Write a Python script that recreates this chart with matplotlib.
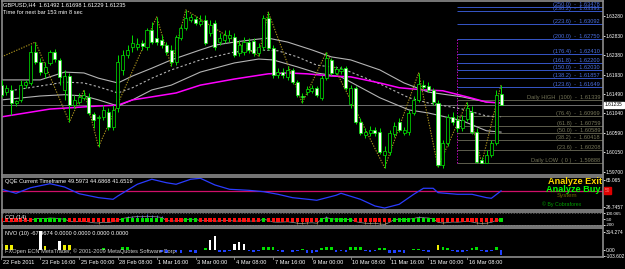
import matplotlib
matplotlib.use("Agg")
import matplotlib.pyplot as plt

W, H = 625, 269
plt.rcParams['font.family'] = ['Liberation Sans', 'DejaVu Sans']

# ---- GBPUSD H4 bars, 8 bars per row ----
opens = [1.6169, 1.6153, 1.6158, 1.6128, 1.6135, 1.6169, 1.6174, 1.6245,
         1.6222, 1.6197, 1.6220, 1.6245, 1.6227, 1.6158, 1.6190, 1.6124,
         1.6130, 1.6140, 1.6142, 1.6103, 1.6094, 1.6096, 1.6107, 1.6073,
         1.6117, 1.6204, 1.6238, 1.6257, 1.6257, 1.6266, 1.6257, 1.6296,
         1.6277, 1.6273, 1.6261, 1.6250, 1.6222, 1.6277, 1.6300, 1.6319,
         1.6321, 1.6310, 1.6319, 1.6289, 1.6312, 1.6268, 1.6273, 1.6277,
         1.6280, 1.6243, 1.6245, 1.6268, 1.6271, 1.6243, 1.6257, 1.6323,
         1.6255, 1.6192, 1.6199, 1.6188, 1.6204, 1.6176, 1.6144, 1.6153,
         1.6156, 1.6163, 1.6140, 1.6185, 1.6227, 1.6197, 1.6202, 1.6208,
         1.6126, 1.6163, 1.6084, 1.6054, 1.6059, 1.6066, 1.6061, 1.6009,
         1.6015, 1.6057, 1.6084, 1.6059, 1.6061, 1.6105, 1.6135, 1.6169,
         1.6167, 1.6158, 1.6128, 1.5986, 1.6036, 1.6096, 1.6089, 1.6071,
         1.6091, 1.6107, 1.6061, 1.5997, 1.5990, 1.6009, 1.6036, 1.61492]
highs = [1.6181, 1.6169, 1.6169, 1.6135, 1.6181, 1.6181, 1.6261, 1.6268,
         1.6232, 1.6222, 1.6250, 1.6252, 1.6232, 1.6204, 1.6197, 1.6147,
         1.6151, 1.6158, 1.6151, 1.6107, 1.6100, 1.6124, 1.6117, 1.6124,
         1.6238, 1.6250, 1.6261, 1.6284, 1.6277, 1.6273, 1.6300, 1.6314,
         1.6326, 1.6284, 1.6268, 1.6261, 1.6284, 1.6307, 1.6342, 1.6333,
         1.6328, 1.6330, 1.6330, 1.6319, 1.6319, 1.6289, 1.6296, 1.6296,
         1.6289, 1.6273, 1.6280, 1.6277, 1.6277, 1.6266, 1.6330, 1.6337,
         1.6261, 1.6208, 1.6208, 1.6213, 1.6208, 1.6181, 1.6151, 1.6167,
         1.6169, 1.6167, 1.6192, 1.6245, 1.6232, 1.6213, 1.6213, 1.6213,
         1.6169, 1.6167, 1.6094, 1.6071, 1.6075, 1.6073, 1.6071, 1.6029,
         1.6066, 1.6084, 1.6094, 1.6073, 1.6112, 1.6144, 1.6197, 1.6181,
         1.6176, 1.6163, 1.6135, 1.6043, 1.6103, 1.6107, 1.6100, 1.6100,
         1.6130, 1.6121, 1.6071, 1.6004, 1.6020, 1.6043, 1.6158, 1.61698]
lows = [1.6142, 1.6147, 1.6100, 1.6121, 1.6130, 1.6163, 1.6169, 1.6218,
        1.6192, 1.6185, 1.6215, 1.6222, 1.6169, 1.6135, 1.6084, 1.6117,
        1.6126, 1.6135, 1.6100, 1.6071, 1.6027, 1.6089, 1.6066, 1.6066,
        1.6107, 1.6192, 1.6232, 1.6245, 1.6250, 1.6250, 1.6250, 1.6264,
        1.6261, 1.6255, 1.6238, 1.6213, 1.6215, 1.6273, 1.6296, 1.6314,
        1.6307, 1.6305, 1.6261, 1.6282, 1.6250, 1.6261, 1.6266, 1.6268,
        1.6234, 1.6236, 1.6238, 1.6243, 1.6236, 1.6236, 1.6250, 1.6250,
        1.6185, 1.6185, 1.6185, 1.6181, 1.6172, 1.6142, 1.6128, 1.6147,
        1.6151, 1.6142, 1.6135, 1.6181, 1.6192, 1.6192, 1.6195, 1.6158,
        1.6117, 1.6080, 1.6054, 1.6048, 1.6052, 1.6052, 1.6011, 1.5979,
        1.6009, 1.6050, 1.6061, 1.6054, 1.6054, 1.6100, 1.6130, 1.6158,
        1.6153, 1.6124, 1.5981, 1.5979, 1.6029, 1.6077, 1.6061, 1.6064,
        1.6087, 1.6057, 1.5990, 1.5989, 1.5989, 1.6004, 1.6032, 1.61229]
closes = [1.6147, 1.6163, 1.6128, 1.6133, 1.6169, 1.6176, 1.6245, 1.6222,
          1.6199, 1.6211, 1.6245, 1.6229, 1.6188, 1.6190, 1.6124, 1.6135,
          1.6142, 1.6147, 1.6105, 1.6089, 1.6096, 1.6112, 1.6073, 1.6112,
          1.6222, 1.6238, 1.6250, 1.6266, 1.6264, 1.6259, 1.6296, 1.6268,
          1.6268, 1.6261, 1.6245, 1.6222, 1.6280, 1.6300, 1.6323, 1.6326,
          1.6312, 1.6317, 1.6266, 1.6307, 1.6257, 1.6277, 1.6284, 1.6284,
          1.6238, 1.6261, 1.6268, 1.6250, 1.6243, 1.6257, 1.6323, 1.6255,
          1.6192, 1.6199, 1.6192, 1.6204, 1.6176, 1.6147, 1.6142, 1.6160,
          1.6163, 1.6147, 1.6185, 1.6232, 1.6197, 1.6206, 1.6206, 1.6163,
          1.6163, 1.6084, 1.6059, 1.6061, 1.6066, 1.6059, 1.6015, 1.6018,
          1.6059, 1.6075, 1.6066, 1.6066, 1.6105, 1.6135, 1.6172, 1.6165,
          1.6158, 1.6130, 1.5986, 1.6036, 1.6096, 1.6084, 1.6071, 1.6089,
          1.6117, 1.6061, 1.5993, 1.5990, 1.6009, 1.6036, 1.6147, 1.61235]

date_labels = ['22 Feb 2011', '23 Feb 16:00', '25 Feb 00:00', '28 Feb 08:00',
               '1 Mar 16:00', '3 Mar 00:00', '4 Mar 08:00', '7 Mar 16:00',
               '9 Mar 00:00', '10 Mar 08:00', '11 Mar 16:00', '15 Mar 00:00',
               '16 Mar 08:00']

# moving averages / envelope (bar index, price)
ma_idx = [0, 10, 20, 24, 27, 31, 36, 41, 48, 55, 59, 63, 68, 72, 78, 82, 87, 91, 96, 100, 103]
ma_val = [1.6096, 1.6114, 1.6121, 1.6123, 1.6135, 1.6142, 1.6151, 1.6169, 1.6183, 1.6195, 1.6197,
          1.6195, 1.6190, 1.6188, 1.6174, 1.6163, 1.6158, 1.6156, 1.6142, 1.6130, 1.6128]
env_up_idx = [0, 8, 13, 17, 20, 24, 27, 31, 35, 41, 44, 48, 53, 55, 59, 64, 68, 72, 78, 83, 88, 95, 100, 103]
env_up = [1.6181, 1.6181, 1.6199, 1.6197, 1.6185, 1.6174, 1.6190, 1.6208, 1.6227, 1.6250, 1.6261, 1.6268,
          1.6275, 1.6277, 1.6268, 1.6250, 1.6234, 1.6227, 1.6204, 1.6174, 1.6153, 1.6142, 1.6130, 1.6128]
env_mid_idx = [0, 8, 13, 17, 20, 24, 27, 31, 35, 41, 48, 53, 57, 61, 65, 70, 78, 84, 88, 95, 100, 103]
env_mid = [1.6153, 1.6167, 1.6176, 1.6174, 1.6165, 1.6151, 1.6163, 1.6185, 1.6204, 1.6227, 1.6245,
           1.6250, 1.6248, 1.6234, 1.6215, 1.6208, 1.6172, 1.6140, 1.6128, 1.6114, 1.6098, 1.6096]
env_lo_idx = [0, 8, 13, 17, 20, 24, 27, 31, 35, 41, 48, 53, 56, 61, 65, 70, 78, 84, 88, 95, 100, 103]
env_lo = [1.6135, 1.6144, 1.6147, 1.6144, 1.6135, 1.6121, 1.6135, 1.6158, 1.6169, 1.6199, 1.6220,
          1.6229, 1.6227, 1.6211, 1.6197, 1.6188, 1.6140, 1.6112, 1.6105, 1.6087, 1.6064, 1.6061]

# zigzag pivots
zz_idx = [0, 7, 14, 17, 20, 32, 35, 38, 53, 55, 62, 67, 79, 86, 90, 96, 99, 103]
zz_val = [1.6234, 1.6268, 1.6084, 1.6158, 1.6027, 1.6326, 1.6213, 1.6342, 1.6236, 1.6337,
          1.6128, 1.6245, 1.5979, 1.6197, 1.5981, 1.6130, 1.5989, 1.6170]

# daily fibo levels
fib_start = 94
fib_names = ['(250.0)', '(238.2)', '(223.6)', '(200.0)', '(176.4)', '(161.8)', '(150.0)', '(138.2)',
             '(123.6)', 'Daily HIGH  (100)', '(76.4)', '(61.8)', '(50.0)', '(38.2)', '(23.6)',
             'Daily LOW  ( 0 )']
fib_prices = [1.63478, 1.63393, 1.63092, 1.62750, 1.62410, 1.62200, 1.62030, 1.61857,
              1.61649, 1.61339, 1.60969, 1.60759, 1.60589, 1.60418, 1.60208, 1.59888]

price_ticks = [1.63280, 1.62830, 1.62380, 1.61930, 1.61490, 1.61040, 1.60590, 1.60150, 1.59700]

# QQE (bar index, value)
qqe_idx = [0, 3, 6, 10, 13, 16, 20, 23, 24, 28, 31, 34, 36, 39, 41, 44, 47, 51, 54, 57, 60, 64,
           65, 69, 70, 74, 77, 79, 82, 85, 87, 89, 90, 94, 97, 100, 101, 103]
qqe_val = [51.9, 46.2, 54.1, 59.8, 55.1, 45.6, 40.0, 37.7, 42.4, 59.0, 66.1, 61.2, 59.0, 66.1,
           67.5, 58.0, 51.9, 50.4, 48.5, 44.8, 40.0, 37.1, 36.3, 43.4, 46.2, 37.7, 28.2, 25.3,
           30.6, 44.8, 53.3, 53.3, 47.1, 44.8, 44.8, 40.0, 39.1, 49.6]

cci = [-60, -80, -90, -60, -40, -30, -10, 60,
       80, 70, 100, 90, 60, 40, -60, -90,
       -70, -60, -100, -140, -150, -110, -130, -80,
       -20, 80, 120, 150, 170, 160, 190, 170,
       160, 130, -20, -60, -40, -30, 30, 40,
       30, -30, -40, -20, -60, -40, -30, -20,
       -60, -50, -40, -50, -60, -40, 40, -20,
       -100, -110, -100, -90, -120, -160, -180, -150,
       -140, -160, 40, 120, 60, 40, 50, 20,
       40, -80, -130, -160, -170, -160, -200, -220,
       -120, 30, 40, 20, 40, 80, 130, 110,
       100, 60, -120, -150, -130, -100, -110, -90,
       -60, -100, -150, -170, -160, -120, -20, 20]

nvo = [110, 90, 90, 0, 0, 0, 0, 0,
       330, 65, 0, 0, 150, 90, 90, 0,
       0, 0, 0, 0, 0, 30, 0, 0,
       0, 50, 50, 0, 0, 0, 0, 0,
       0, -40, -50, 0, -40, -50, 0, -40,
       -50, 0, 30, 170, 240, -40, -40, -30,
       110, 130, 110, -30, -40, -30, 50, 50,
       50, -30, -40, 0, -40, -30, 20, -50,
       -50, -40, 30, 50, 50, -40, -30, -40,
       50, 50, 50, -30, -40, -30, 40, 40,
       -50, -50, -40, -50, 0, 20, 20, -30,
       -40, 0, 90, 50, 40, -30, -40, -40,
       -30, 40, 50, -30, -40, -30, 50, -90]

# ---- layout in screen pixels ----
X0, X1 = 2, 603
BAR0, STEP = 1.5, 4.85   # pixel of bar 0 and bar spacing
XLIM = ((X0 - BAR0) / STEP, (X1 - BAR0) / STEP)
FS = 4.1
FS_AX = 3.5
GRAY = '#8c8c8c'

fig = plt.figure(figsize=(W / 100, H / 100), dpi=100, facecolor='black')


def panel(y0, y1):
    ax = fig.add_axes([X0 / W, 1 - y1 / H, (X1 - X0) / W, (y1 - y0) / H])
    ax.set_facecolor('black')
    ax.set_xlim(*XLIM)
    for s in ax.spines.values():
        s.set_color(GRAY)
        s.set_linewidth(1.2)
    ax.set_xticks([])
    ax.yaxis.tick_right()
    ax.tick_params(axis='y', colors='white', labelsize=FS_AX, length=1.5, width=0.6, pad=0.5)
    return ax


n = len(closes)
idx = list(range(n))

# ---- main price panel ----
ax = panel(1, 175)
ax.set_ylim(1.59623, 1.63625)
ax.set_yticks(price_ticks)
ax.set_yticklabels(['%.5f' % t for t in price_ticks])

ax.axhline(closes[-1], color='#808080', lw=0.6, zorder=1)

# fibo lines + labels
for name, p in zip(fib_names, fib_prices):
    upper = p > fib_prices[9]
    col = '#3656c8' if upper else '#5e5e4e'
    ax.hlines(p, fib_start, XLIM[1], colors=col, lw=0.7, zorder=1)
    ax.text(XLIM[1] - 0.6, p, '%s  -  %.5f' % (name, p), color='#4a6ee0' if upper else '#77775a',
            fontsize=FS, ha='right', va='bottom')
ax.vlines(fib_start, fib_prices[-1], fib_prices[3], colors='#c000c0', lw=0.7, linestyles=(0, (1.5, 1.5)))

ax.plot(env_up_idx, env_up, color='#b4b4b4', lw=0.8, zorder=2)
ax.plot(env_mid_idx, env_mid, color='#b4b4b4', lw=0.8, ls=(0, (2, 2)), zorder=2)
ax.plot(env_lo_idx, env_lo, color='#b4b4b4', lw=0.8, zorder=2)
ax.plot(ma_idx, ma_val, color='#ff00ff', lw=1.1, zorder=2)
ax.plot(zz_idx, zz_val, color='#a8901c', lw=0.8, ls=(0, (1.2, 1.2)), zorder=2)

# candles: bull = black body green frame, bear = white body
ax.vlines(idx, lows, highs, colors='#00dd00', lw=0.7, zorder=3)
for i in idx:
    o, c = opens[i], closes[i]
    bull = c >= o
    ax.bar(i, max(abs(c - o), 0.00005), bottom=min(o, c), width=0.62,
           color='black' if bull else 'white', edgecolor='#00ee00', lw=0.5, zorder=4)

ax.annotate('%.5f' % closes[-1], xy=(1, closes[-1]), xycoords=('axes fraction', 'data'),
            xytext=(1.5, 0), textcoords='offset points', va='center', ha='left', fontsize=FS_AX,
            color='black', bbox=dict(boxstyle='square,pad=0.15', fc='white', ec='white'),
            annotation_clip=False)

ax.text(0.002, 0.995, 'GBPUSD,H4  %.5f %.5f %.5f %.5f' % (opens[-1], highs[-1], lows[-1], closes[-1]),
        transform=ax.transAxes, color='white', fontsize=FS, va='top')
ax.text(0.002, 0.95, 'Time for next bar 153 min 8 sec', transform=ax.transAxes,
        color='white', fontsize=FS, va='top')

# ---- QQE ----
aq = panel(177, 210)
aq.set_ylim(22.5, 69.3)
aq.set_yticks([65.065, 26.7457])
aq.set_yticklabels(['65.065', '26.7457'])
aq.axhline(50, color='#d0106a', lw=0.9)
aq.plot(qqe_idx, qqe_val, color='#2a3cff', lw=0.9)
aq.text(0.005, 0.93, 'QQE Current Timeframe %.4f 44.6868 41.6519' % 49.5973, transform=aq.transAxes,
        color='white', fontsize=FS, va='top')
aq.annotate('50', xy=(1, 50), xycoords=('axes fraction', 'data'), xytext=(1.5, 0),
            textcoords='offset points', va='center', fontsize=3.4, color='#ff8080',
            bbox=dict(boxstyle='square,pad=0.2', fc='#e00000', ec='#e00000'), annotation_clip=False)
fig.text(602 / W, 1 - 181 / H, 'Analyze Exit', color='#ffd800', fontsize=6.6, weight='bold',
         ha='right', va='center')
fig.text(600 / W, 1 - 189 / H, 'Analyze Buy', color='#00ff00', fontsize=6.6, weight='bold',
         ha='right', va='center')
fig.text(567 / W, 1 - 196 / H, 'System', color='#707000', fontsize=4.4, ha='center', va='center')
fig.text(562 / W, 1 - 204 / H, '\u00a9 By Cobraforex', color='#00a000', fontsize=3.8,
         ha='center', va='center')

# ---- CCI ----
ac = panel(212, 226)
ac.set_ylim(-300, 400)
ac.set_yticks([330, 30, -230])
ac.set_yticklabels(['100.065', '-50', '-200'])
ac.tick_params(axis='y', labelsize=3.2)
ac.axhline(330, color='#707070', lw=0.5, ls=(0, (2, 2)))
ac.axhline(-230, color='#707070', lw=0.5, ls=(0, (2, 2)))
for i, v in enumerate(cci):
    if v > 100:
        ac.vlines(i, 0, v * 1.5, colors='#4060ff', lw=0.6)
    elif v < -140:
        ac.vlines(i, v * 1.2, 0, colors='#c07020', lw=0.6)
ac.plot(idx, cci, color='#9a9a9a', lw=0.5)
ac.scatter(idx, [0] * n, marker='s', s=5, linewidths=0,
           c=['#00e000' if v > 0 else '#ff1010' for v in cci], zorder=3)
ac.text(0.005, 0.6, 'CCI (14)', transform=ac.transAxes, color='white', fontsize=FS, va='center')

# ---- NVO ----
an = panel(228, 257)
an.set_ylim(-129.4, 388.2)
an.set_yticks([314.274, 0, -103.602])
an.set_yticklabels(['314.274', '0.00', '-103.602'])
nvo_col = ['white' if v > 100 else '#f0f000' if v > 60 else '#00e000' if v > 0 else '#2040ff'
           for v in nvo]
an.bar(idx, nvo, width=0.55, color=nvo_col)
an.text(0.005, 0.9, 'NVO (10) -67.9674 0.0000 0.0000 0.0000 0.0000', transform=an.transAxes,
        color='white', fontsize=FS, va='top')
an.text(0.005, 0.2, 'FXOpen ECN MetaTrader, \u00a9 2001-2009 MetaQuotes Software Corp.',
        transform=an.transAxes, color='#d0d0d0', fontsize=FS, va='center')

# ---- time axis labels ----
for k, lab in enumerate(date_labels):
    xp = BAR0 + STEP * 8 * k
    fig.text((xp + 1.5) / W, 1 - 262 / H, lab, color='white', fontsize=FS, ha='left', va='center')
    fig.add_artist(plt.Line2D([xp / W, xp / W], [1 - 257 / H, 1 - 259 / H], color=GRAY, lw=0.6))

fig.savefig('out.png', dpi=100, facecolor='black')
